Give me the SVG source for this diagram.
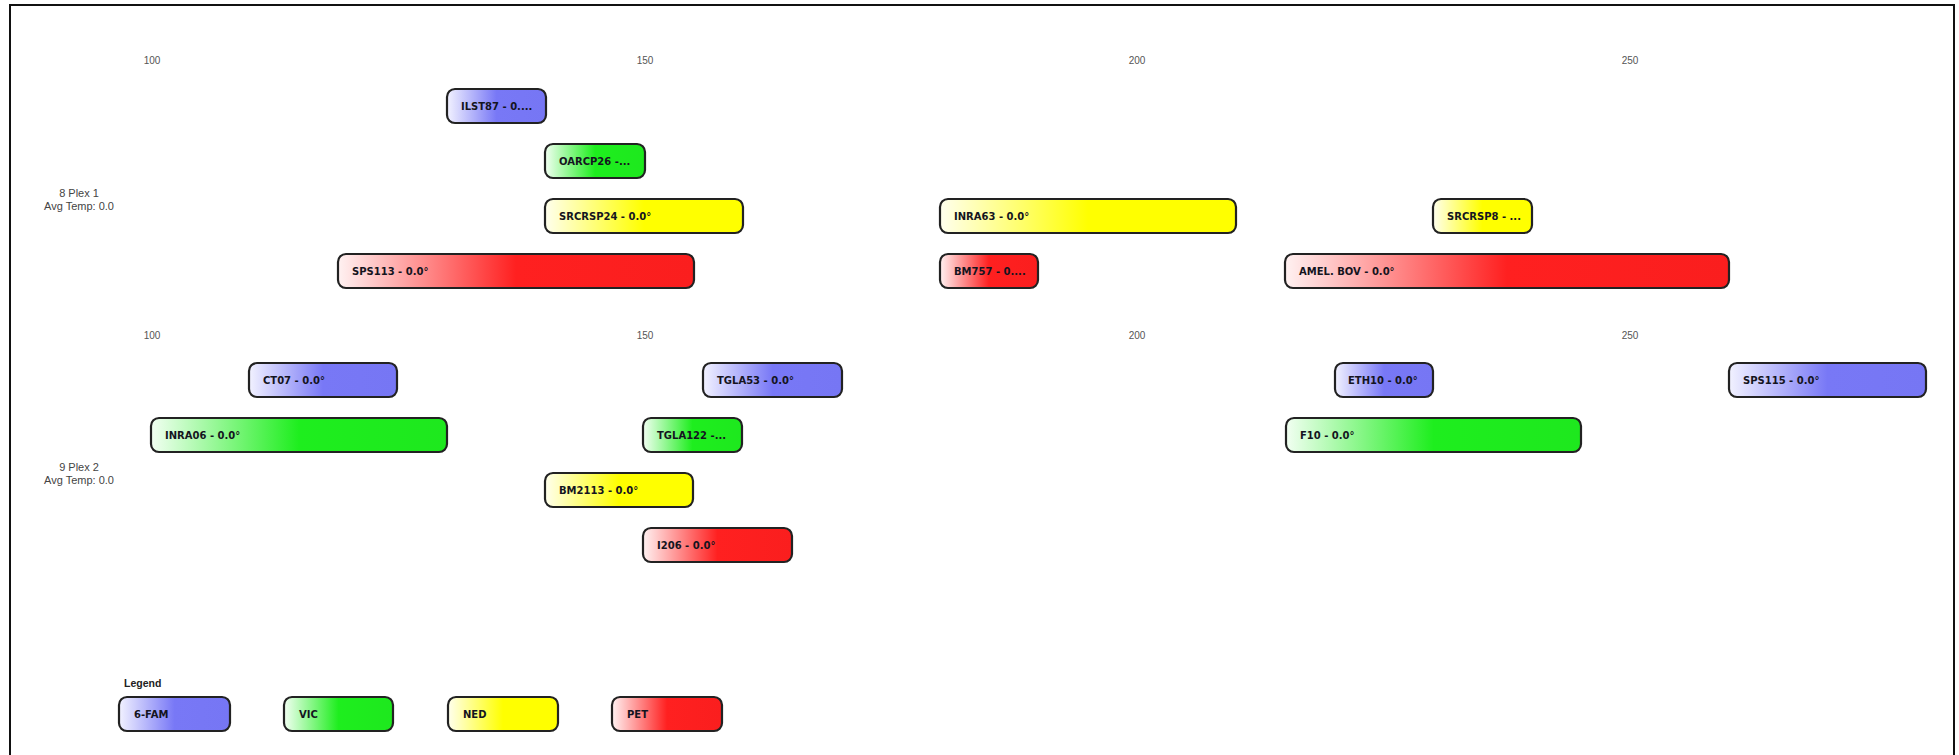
<svg xmlns="http://www.w3.org/2000/svg" width="1959" height="755" viewBox="0 0 1959 755">
<defs>
<linearGradient id="gBlue" x1="0" y1="0" x2="1" y2="0"><stop offset="0" stop-color="#f2f2ff"/><stop offset="0.5" stop-color="#7878f6"/><stop offset="1" stop-color="#7676f4"/></linearGradient>
<linearGradient id="gGreen" x1="0" y1="0" x2="1" y2="0"><stop offset="0" stop-color="#f2fff2"/><stop offset="0.5" stop-color="#1eee1e"/><stop offset="1" stop-color="#1ee81e"/></linearGradient>
<linearGradient id="gYellow" x1="0" y1="0" x2="1" y2="0"><stop offset="0" stop-color="#ffffee"/><stop offset="0.5" stop-color="#ffff00"/><stop offset="1" stop-color="#ffff00"/></linearGradient>
<linearGradient id="gRed" x1="0" y1="0" x2="1" y2="0"><stop offset="0" stop-color="#fff2f2"/><stop offset="0.5" stop-color="#ff2020"/><stop offset="1" stop-color="#fa1e1e"/></linearGradient>
<style>
.box{stroke:#222;stroke-width:2.2;rx:8px;ry:8px}
.fam{fill:url(#gBlue)}
.vic{fill:url(#gGreen)}
.ned{fill:url(#gYellow)}
.pet{fill:url(#gRed)}
.lbl{font-family:"DejaVu Sans",sans-serif;font-weight:bold;font-size:10px;fill:#141420}
.axis{font-family:"Liberation Sans",sans-serif;font-size:10px;fill:#555;text-anchor:middle}
.plex{font-family:"Liberation Sans",sans-serif;font-size:11px;fill:#444;text-anchor:middle}
.leg{font-family:"Liberation Sans",sans-serif;font-weight:bold;font-size:10.5px;fill:#222}
</style>
</defs>
<rect width="1959" height="755" fill="#fff"/>
<path d="M10,760 V5 H1954 V760" fill="none" stroke="#111" stroke-width="2"/>

<g id="axis1">
<text class="axis" x="152" y="64">100</text>
<text class="axis" x="645" y="64">150</text>
<text class="axis" x="1137" y="64">200</text>
<text class="axis" x="1630" y="64">250</text>
</g>
<g id="axis2">
<text class="axis" x="152" y="339">100</text>
<text class="axis" x="645" y="339">150</text>
<text class="axis" x="1137" y="339">200</text>
<text class="axis" x="1630" y="339">250</text>
</g>

<g id="plex1-label">
<text class="plex" x="79" y="197">8 Plex 1</text>
<text class="plex" x="79" y="210">Avg Temp: 0.0</text>
</g>
<g id="plex2-label">
<text class="plex" x="79" y="471">9 Plex 2</text>
<text class="plex" x="79" y="484">Avg Temp: 0.0</text>
</g>

<g id="ILST87"><rect class="box fam" x="447" y="89" width="99" height="34"/><text class="lbl" x="461" y="110">ILST87 - 0....</text></g>
<g id="OARCP26"><rect class="box vic" x="545" y="144" width="100" height="34"/><text class="lbl" x="559" y="165">OARCP26 -...</text></g>
<g id="SRCRSP24"><rect class="box ned" x="545" y="199" width="198" height="34"/><text class="lbl" x="559" y="220">SRCRSP24 - 0.0°</text></g>
<g id="INRA63"><rect class="box ned" x="940" y="199" width="296" height="34"/><text class="lbl" x="954" y="220">INRA63 - 0.0°</text></g>
<g id="SRCRSP8"><rect class="box ned" x="1433" y="199" width="99" height="34"/><text class="lbl" x="1447" y="220">SRCRSP8 - ...</text></g>
<g id="SPS113"><rect class="box pet" x="338" y="254" width="356" height="34"/><text class="lbl" x="352" y="275">SPS113 - 0.0°</text></g>
<g id="BM757"><rect class="box pet" x="940" y="254" width="98" height="34"/><text class="lbl" x="954" y="275">BM757 - 0....</text></g>
<g id="AMEL_BOV"><rect class="box pet" x="1285" y="254" width="444" height="34"/><text class="lbl" x="1299" y="275">AMEL. BOV - 0.0°</text></g>

<g id="CT07"><rect class="box fam" x="249" y="363" width="148" height="34"/><text class="lbl" x="263" y="384">CT07 - 0.0°</text></g>
<g id="TGLA53"><rect class="box fam" x="703" y="363" width="139" height="34"/><text class="lbl" x="717" y="384">TGLA53 - 0.0°</text></g>
<g id="ETH10"><rect class="box fam" x="1335" y="363" width="98" height="34"/><text class="lbl" x="1348" y="384">ETH10 - 0.0°</text></g>
<g id="SPS115"><rect class="box fam" x="1729" y="363" width="197" height="34"/><text class="lbl" x="1743" y="384">SPS115 - 0.0°</text></g>
<g id="INRA06"><rect class="box vic" x="151" y="418" width="296" height="34"/><text class="lbl" x="165" y="439">INRA06 - 0.0°</text></g>
<g id="TGLA122"><rect class="box vic" x="643" y="418" width="99" height="34"/><text class="lbl" x="657" y="439">TGLA122 -...</text></g>
<g id="F10"><rect class="box vic" x="1286" y="418" width="295" height="34"/><text class="lbl" x="1300" y="439">F10 - 0.0°</text></g>
<g id="BM2113"><rect class="box ned" x="545" y="473" width="148" height="34"/><text class="lbl" x="559" y="494">BM2113 - 0.0°</text></g>
<g id="I206"><rect class="box pet" x="643" y="528" width="149" height="34"/><text class="lbl" x="657" y="549">I206 - 0.0°</text></g>

<g id="legend">
<text class="leg" x="124" y="687">Legend</text>
<g id="leg-6FAM"><rect class="box fam" x="119" y="697" width="111" height="34"/><text class="lbl" x="134" y="718">6-FAM</text></g>
<g id="leg-VIC"><rect class="box vic" x="284" y="697" width="109" height="34"/><text class="lbl" x="299" y="718">VIC</text></g>
<g id="leg-NED"><rect class="box ned" x="448" y="697" width="110" height="34"/><text class="lbl" x="463" y="718">NED</text></g>
<g id="leg-PET"><rect class="box pet" x="612" y="697" width="110" height="34"/><text class="lbl" x="627" y="718">PET</text></g>
</g>
<g id="connectors"/>
</svg>
